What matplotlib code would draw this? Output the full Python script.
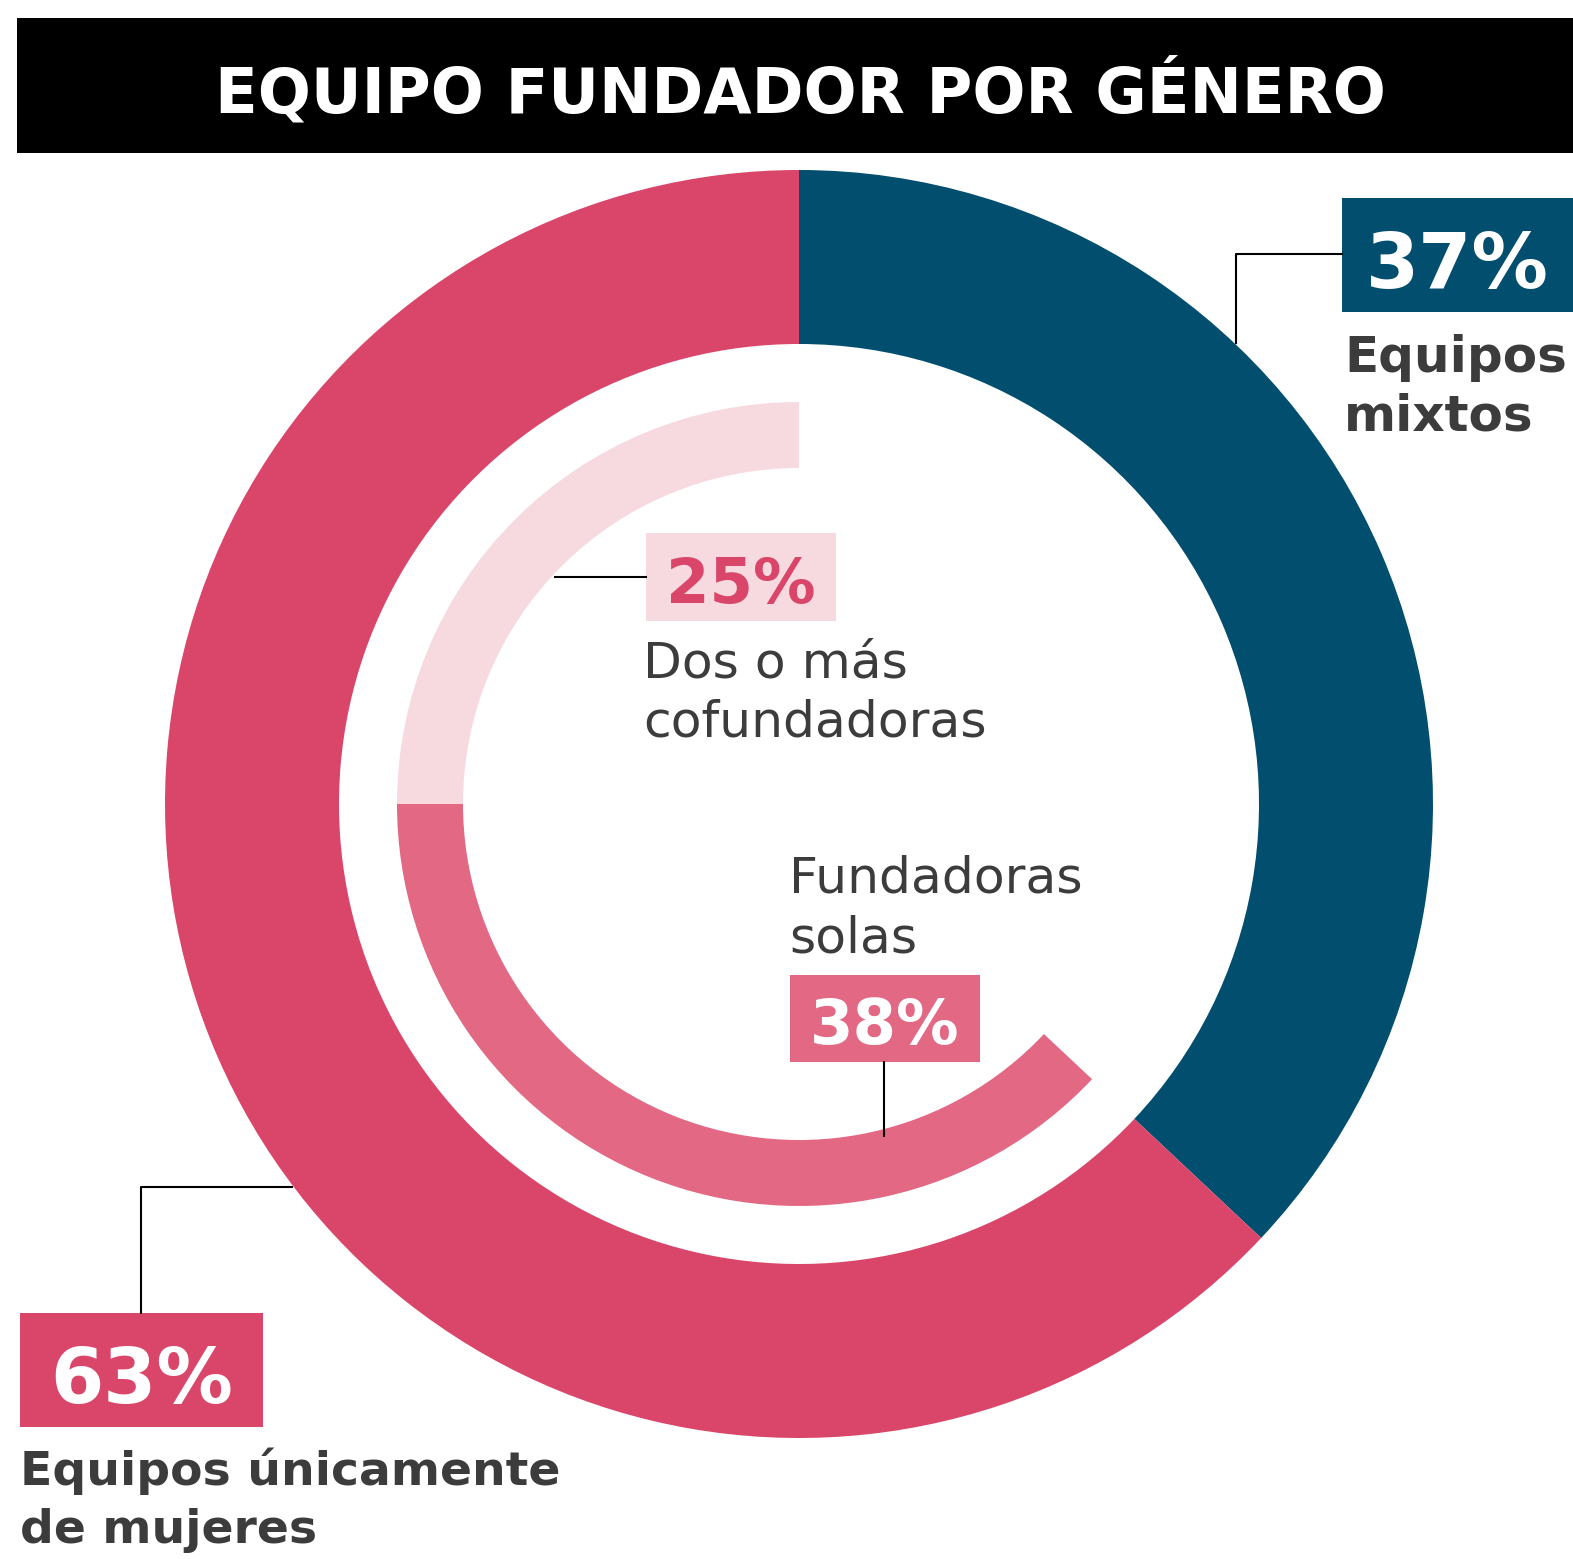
import matplotlib
matplotlib.use('Agg')
import matplotlib.pyplot as plt
from matplotlib.patches import Rectangle

# datos
outer_labels = ['Equipos mixtos', 'Equipos únicamente de mujeres']
outer_pct = [37, 63]
inner_labels = ['Dos o más cofundadoras', 'Fundadoras solas']
inner_pct = [25, 38]
title = 'EQUIPO FUNDADOR POR GÉNERO'

# colores
BLUE = '#014E6F'
PINK = '#DA466A'
PINK_MID = '#E26884'
PINK_LIGHT = '#F7DAE0'
GRAY = '#3C3C3C'

W, H = 1573, 1559
CX, CY = 799, 804  # centro del anillo (pixeles de la imagen)

plt.rcParams['font.family'] = ['DejaVu Sans']

fig = plt.figure(figsize=(W / 100, H / 100), dpi=100)
fig.patch.set_facecolor('white')

# anillos
axp = fig.add_axes([0, 0, 1, 1])
axp.pie(outer_pct, radius=634, startangle=90, counterclock=False,
        colors=[BLUE, PINK], wedgeprops=dict(width=174, linewidth=0))
axp.pie(inner_pct + [outer_pct[0]], radius=402, startangle=90, counterclock=True,
        colors=[PINK_LIGHT, PINK_MID, 'none'], wedgeprops=dict(width=66, linewidth=0))
axp.set_xlim(-CX, W - CX)
axp.set_ylim(-(H - CY), CY)
axp.axis('off')

# capa de anotaciones en pixeles
ax = fig.add_axes([0, 0, 1, 1])
ax.set_xlim(0, W)
ax.set_ylim(H, 0)
ax.axis('off')
ax.patch.set_alpha(0)

# titulo
ax.add_patch(Rectangle((17, 18), W - 17, 135, color='black', lw=0))
ax.text(800, 112, title, color='white', fontsize=45, fontweight='bold',
        ha='center', va='baseline')


def pct_box(x0, y0, w, h, txt, fc, tc, size):
    ax.add_patch(Rectangle((x0, y0), w, h, color=fc, lw=0))
    ax.text(x0 + w / 2, y0 + h * 0.79, txt, color=tc, fontsize=size,
            fontweight='bold', ha='center', va='baseline')


def label(x, ys, lines, size, weight):
    for yb, line in zip(ys, lines):
        ax.text(x, yb, line, color=GRAY, fontsize=size, fontweight=weight,
                ha='left', va='baseline')


# equipos mixtos
ax.plot([1342, 1236, 1236], [254, 254, 343], color='black', lw=1.5)
pct_box(1342, 198, W - 1342, 114, f'{outer_pct[0]}%', BLUE, 'white', 55)
label(1344, [372, 430], ['Equipos', 'mixtos'], 36, 'bold')

# dos o mas cofundadoras
ax.plot([555, 646], [577, 577], color='black', lw=1.5)
pct_box(646, 533, 190, 88, f'{inner_pct[0]}%', PINK_LIGHT, PINK, 45)
label(643, [677, 736], ['Dos o más', 'cofundadoras'], 36.3, 'normal')

# fundadoras solas
label(789, [892, 952], ['Fundadoras', 'solas'], 36.3, 'normal')
ax.plot([884, 884], [1062, 1136], color='black', lw=1.5)
pct_box(790, 975, 190, 87, f'{inner_pct[1]}%', PINK_MID, 'white', 45)

# unicamente mujeres
ax.plot([292, 141, 141], [1187, 1187, 1313], color='black', lw=1.5)
pct_box(20, 1313, 243, 114, f'{outer_pct[1]}%', PINK, 'white', 55)
label(20, [1485, 1543], ['Equipos únicamente', 'de mujeres'], 34, 'bold')

fig.savefig('out.png', dpi=100)
